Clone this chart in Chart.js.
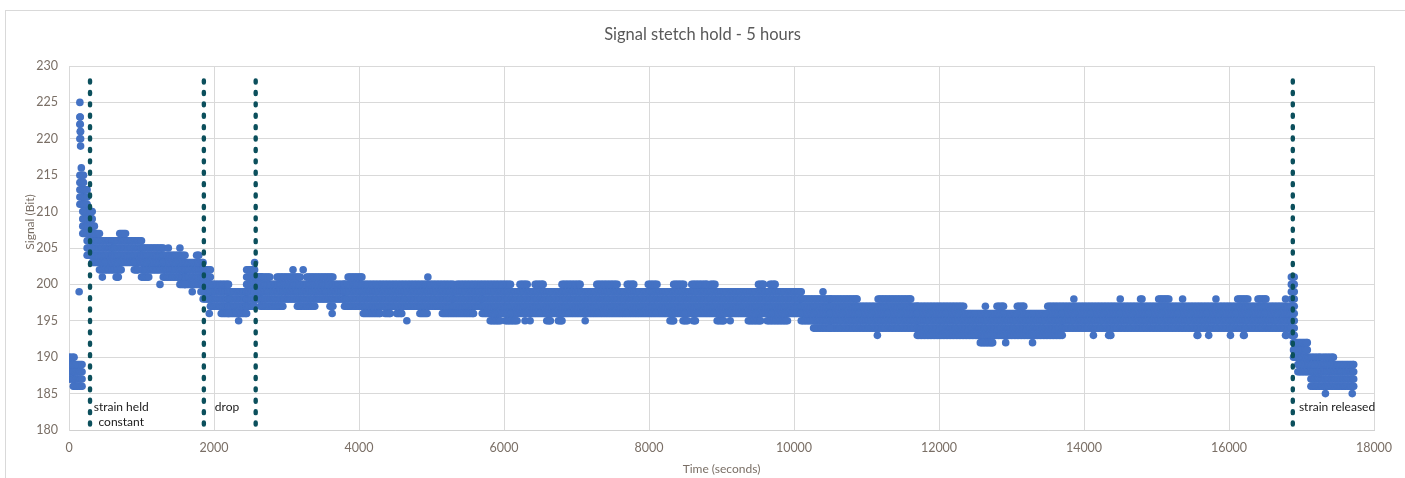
<!DOCTYPE html>
<html>
<head>
<meta charset="utf-8">
<script src="https://cdn.jsdelivr.net/npm/chart.js@4.4.1/dist/chart.umd.min.js"></script>
<style>
  html, body { margin: 0; padding: 0; background: #fff; }
  #wrap { position: relative; width: 1405px; height: 478px; overflow: hidden; }
  #frame { position: absolute; left: 5px; top: 10px; width: 1430px; height: 520px; border: 1px solid #d9d9d9; }
  canvas { position: absolute; left: 0; top: 0; }
</style>
</head>
<body>
<div id="wrap">
  <div id="frame"></div>
  <canvas id="signalChart" width="1405" height="478"></canvas>
</div>
<script>
var chartTitle = 'Signal stetch hold - 5 hours'
var xTitle = 'Time (seconds)'
var yTitle = 'Signal (Bit)'

// dense readings: from / to (s), lowest and highest value seen
var bandStart = [0, 60, 150, 190, 250, 320, 600, 1000, 1300, 1600, 1850, 1950, 2200, 2450, 2560, 2650, 3800, 5300, 5700, 10100, 10500, 11700, 13700, 16860, 16890, 16950, 17130]
var bandEnd   = [70, 180, 200, 250, 320, 600, 1000, 1300, 1600, 1850, 1950, 2200, 2450, 2560, 2650, 3800, 5300, 5700, 10100, 10500, 11700, 13700, 16860, 16900, 17080, 17260, 17720]
var bandLow   = [187, 186, 211, 207, 204, 203, 203, 202, 201, 200, 198, 197, 196, 197, 198, 198, 197, 197, 196, 195, 194, 193, 194, 193, 190, 188, 186]
var bandHigh  = [190, 189, 215, 213, 210, 206, 206, 205, 204, 203, 202, 200, 199, 202, 201, 200, 200, 199, 199, 198, 197, 196, 197, 201, 192, 190, 189]

// scattered readings outside the band: from / to (s), value
var sparseStart = [150, 150, 150, 155, 150, 160, 140, 170,
  320, 330, 420, 460, 650, 700, 620, 900, 1000, 1255, 1370, 1530, 1530, 1700, 1760, 1820,
  1935, 2100, 2340, 2560,
  2590, 2870, 3280, 3850, 4950, 3090, 3230,
  2640, 3150, 3600,
  3630, 4060, 4360, 4520, 4840, 5150,
  4660, 5810, 6020, 6290, 6360, 6590, 6750, 7120, 8290, 8470, 8610, 8940, 9120, 9370, 9630,
  5350, 6220, 6430, 6800, 7280, 7700, 7990, 8340, 8590, 8850, 9510, 9670,
  10400, 10270, 10500, 11160, 11150,
  11700, 12640, 12800, 13080, 13500,
  12570, 12920, 13290,
  13860, 14500, 14780, 15030, 15360, 15820, 16120, 16400, 16780,
  14130, 14340, 15560, 15720, 16020, 16200, 16780,
  17290, 17330, 17700]
var sparseEnd = [150, 155, 155, 160, 160, 160, 140, 170,
  420, 350, 600, 460, 680, 780, 720, 950, 1100, 1255, 1370, 1530, 1600, 1700, 1790, 1820,
  1935, 2200, 2340, 2560,
  2770, 3190, 3640, 4040, 4950, 3090, 3230,
  2950, 3390, 3640,
  3630, 4290, 4430, 4590, 4940, 5580,
  4660, 5950, 6180, 6290, 6360, 6640, 6800, 7120, 8340, 8530, 8640, 9030, 9120, 9540, 9910,
  6090, 6320, 6540, 7050, 7560, 7790, 8110, 8480, 8800, 8910, 9580, 9740,
  10400, 10500, 10870, 11610, 11150,
  12340, 12640, 12890, 13170, 13680,
  12740, 12920, 13290,
  13860, 14500, 14800, 15170, 15360, 15820, 16260, 16510, 16780,
  14130, 14370, 15570, 15720, 16020, 16210, 16790,
  17440, 17330, 17700]
var sparseValue = [225, 223, 222, 221, 220, 219, 199, 216,
  207, 208, 202, 201, 201, 207, 202, 202, 201, 200, 205, 205, 200, 199, 204, 199,
  196, 196, 195, 203,
  201, 201, 201, 201, 201, 202, 202,
  197, 197, 197,
  196, 196, 196, 196, 196, 196,
  195, 195, 195, 195, 195, 195, 195, 195, 195, 195, 195, 195, 195, 195, 195,
  200, 200, 200, 200, 200, 200, 200, 200, 200, 200, 200, 200,
  199, 194, 198, 198, 193,
  197, 197, 197, 197, 197,
  192, 192, 192,
  198, 198, 198, 198, 198, 198, 198, 198, 198,
  193, 193, 193, 193, 193, 193, 193,
  190, 185, 185]

// event markers
var eventTimes = [290, 1860, 2575, 16880]
var eventLow = 180.6
var eventHigh = 228

// notes under the markers
var noteText  = ['strain held', 'constant', 'drop', 'strain released']
var noteTime  = [720, 720, 2180, 17490]
var noteValue = [183.2, 181.1, 183.2, 183.2]

var STEP = 20

function sampleTimes(t0, t1) {
    var ts = []
    for (var t = t0; t < t1; t += STEP) ts.push(t)
    ts.push(t1)
    return ts
}

var readings = []
for (var i = 0; i < bandStart.length; i++) {
    sampleTimes(bandStart[i], bandEnd[i]).forEach(function(t) {
        for (var v = bandLow[i]; v <= bandHigh[i]; v++) readings.push({x: t, y: v})
    })
}
for (var j = 0; j < sparseStart.length; j++) {
    sampleTimes(sparseStart[j], sparseEnd[j]).forEach(function(t) {
        readings.push({x: t, y: sparseValue[j]})
    })
}

var datasets = eventTimes.map(function(t) {
    return {
        data: [{x: t, y: eventHigh}, {x: t, y: eventLow}],
        showLine: true,
        borderColor: '#0b4f5c',
        borderWidth: 4.4,
        borderDash: [2, 9.4],
        borderCapStyle: 'round',
        pointRadius: 0,
        order: 0
    }
})
datasets.push({
    data: readings,
    backgroundColor: '#4472c4',
    borderWidth: 0,
    pointRadius: 3.8,
    order: 1
})

var labelPlugin = {
    id: 'labels',
    afterDraw: function(chart) {
        var ctx = chart.ctx
        var area = chart.chartArea
        var xs = chart.scales.x
        var ys = chart.scales.y
        ctx.save()
        ctx.textAlign = 'center'
        ctx.textBaseline = 'middle'
        ctx.fillStyle = '#595959'
        ctx.font = '16.5px Lato'
        ctx.fillText(chartTitle, chart.width / 2, 35)

        ctx.fillStyle = '#7a6f66'
        ctx.font = '12px Lato'
        ctx.fillText(xTitle, (area.left + area.right) / 2, 469)
        ctx.save()
        ctx.translate(30, 222)
        ctx.rotate(-Math.PI / 2)
        ctx.fillText(yTitle, 0, 0)
        ctx.restore()

        ctx.fillStyle = '#1a1a1a'
        ctx.font = '12px Lato'
        noteText.forEach(function(txt, k) {
            ctx.fillText(txt, xs.getPixelForValue(noteTime[k]), ys.getPixelForValue(noteValue[k]))
        })
        ctx.restore()
    }
}

new Chart(document.getElementById('signalChart'), {
    type: 'scatter',
    data: { datasets: datasets },
    plugins: [labelPlugin],
    options: {
        responsive: false,
        animation: false,
        events: [],
        layout: { autoPadding: false, padding: { top: 66, right: 31, bottom: 0, left: 0 } },
        plugins: { legend: { display: false }, tooltip: { enabled: false } },
        scales: {
            x: {
                type: 'linear',
                min: 0,
                max: 18000,
                afterFit: function(scale) { scale.height = 48 },
                ticks: {
                    stepSize: 2000,
                    padding: 10,
                    color: '#7a6f66',
                    font: { family: 'Lato', size: 12.5 },
                    callback: function(v) { return String(v) }
                },
                grid: { color: '#d9d9d9', drawTicks: false },
                border: { color: '#d0d0d0' }
            },
            y: {
                min: 180,
                max: 230,
                afterFit: function(scale) { scale.width = 69 },
                ticks: { stepSize: 5, padding: 11, color: '#7a6f66', font: { family: 'Lato', size: 12.5 } },
                grid: { color: '#d9d9d9', drawTicks: false },
                border: { color: '#d9d9d9' }
            }
        }
    }
})
</script>
</body>
</html>
